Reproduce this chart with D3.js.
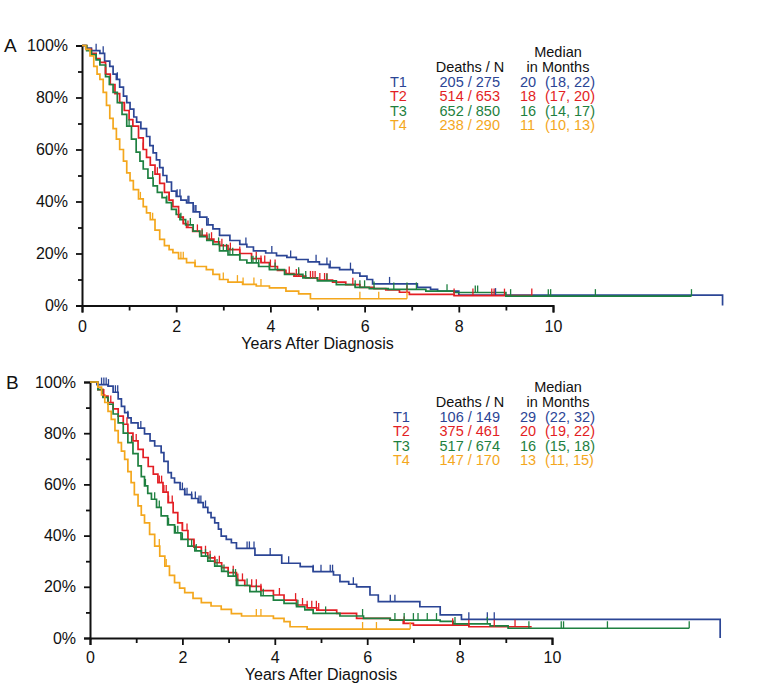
<!DOCTYPE html>
<html>
<head>
<meta charset="utf-8">
<script src="https://cdn.jsdelivr.net/npm/d3@7"></script>
<style>
  html, body { margin: 0; padding: 0; background: #fff; }
  svg { display: block; }
  text { font-family: "Liberation Sans", Arial, Helvetica, sans-serif; }
</style>
</head>
<body>
<svg id="chart" width="759" height="699"></svg>
<script>
// ---------------- DATA ----------------
const groups = ["T1", "T2", "T3", "T4"];
const xTicks = [0, 2, 4, 6, 8, 10];
const xMinorTicks = [1, 3, 5, 7, 9];
const yTicks = [0, 20, 40, 60, 80, 100];
const yMinorTicks = [10, 30, 50, 70, 90];
const xTitle = "Years After Diagnosis";

// Panel A: [years, survival %]
const A_T1 = [[0,100],[0.08,99],[0.2,98],[0.38,97],[0.48,94],[0.59,92],[0.66,89],[0.73,87],[0.8,84],[0.88,80.5],[0.95,78],[1.02,75.5],[1.1,72.5],[1.16,70.5],[1.25,68],[1.37,65],[1.44,61.5],[1.51,58.7],[1.58,56],[1.65,53],[1.72,50],[1.8,47.5],[1.9,44],[2.0,42],[2.1,40.5],[2.22,39.5],[2.36,36],[2.5,34],[2.65,31],[2.78,29.5],[2.92,27],[3.14,25],[3.35,23.5],[3.5,22.5],[3.64,21],[3.9,20.2],[4.13,19.2],[4.35,18.5],[4.55,17.7],[4.8,16.8],[5.04,15.8],[5.25,14.6],[5.47,13.8],[5.75,12.5],[5.9,11.3],[6.05,10],[6.17,8.3],[7.12,7],[7.4,6.2],[7.55,5.5],[8.0,4],[13.6,4],[13.6,0]];
const A_T2 = [[0,100],[0.1,98.5],[0.2,97],[0.3,95],[0.38,93.5],[0.5,89],[0.6,85],[0.7,81.5],[0.8,78],[0.9,75],[1.0,71.5],[1.08,69],[1.2,64.5],[1.3,60],[1.37,57],[1.45,54],[1.55,50.5],[1.65,47],[1.75,43.5],[1.85,40.5],[1.93,38],[2.05,34],[2.15,31.5],[2.22,30],[2.35,28.5],[2.5,27],[2.65,25.5],[2.8,24.5],[2.92,23],[3.1,21.5],[3.35,20],[3.6,18],[3.8,16.5],[3.98,15],[4.15,13.5],[4.33,12.3],[4.5,11.3],[4.75,10.6],[5.0,9.8],[5.32,9],[5.6,8],[5.9,7],[6.2,6.5],[6.45,6],[6.74,5.1],[6.95,4.3],[7.9,3.8],[9.55,3.8]];
const A_T3 = [[0,100],[0.1,98],[0.2,96.5],[0.3,94.5],[0.38,92.5],[0.5,88],[0.58,85],[0.66,82],[0.75,78],[0.85,73.5],[0.95,69],[1.05,64],[1.15,59],[1.23,55.5],[1.3,52.5],[1.4,49],[1.51,46],[1.6,43.5],[1.7,41.5],[1.79,39.6],[1.9,37],[2.0,35],[2.08,33],[2.2,31],[2.36,28.6],[2.5,26.5],[2.65,25],[2.78,23.5],[2.92,21],[3.1,19.5],[3.35,17.5],[3.5,16.4],[3.75,15],[3.98,13.8],[4.3,12],[4.69,10.6],[5.0,9.5],[5.4,8],[5.8,7],[6.1,6.5],[6.5,6.2],[7.3,5.5],[7.9,5],[9.0,3.6],[12.94,3.6]];
const A_T4 = [[0,100],[0.08,98.5],[0.17,96],[0.25,92],[0.32,89],[0.38,87],[0.45,82],[0.52,77],[0.59,72],[0.66,68],[0.73,64],[0.8,60],[0.88,55.5],[0.95,51],[1.02,48],[1.09,44.6],[1.2,41],[1.3,38],[1.37,35.6],[1.45,33],[1.55,29],[1.65,25.4],[1.75,23],[1.85,21.5],[1.93,20.3],[2.05,18],[2.22,16.5],[2.4,15],[2.64,13.8],[2.78,12],[2.92,10],[3.1,9],[3.41,8.1],[3.7,7.5],[3.98,6.8],[4.33,5.5],[4.6,4.5],[4.85,2.6],[6.9,2.6]];

// Panel B: [years, survival %]
const B_T1 = [[0,100],[0.15,99],[0.39,98.4],[0.5,96],[0.61,93.4],[0.68,90.5],[0.75,88],[0.82,86],[0.89,84],[1.04,82],[1.18,79.7],[1.3,77],[1.4,75],[1.54,72.4],[1.6,69],[1.69,64.6],[1.76,62.5],[1.83,60.7],[1.95,58],[2.05,56],[2.2,54.5],[2.34,52.9],[2.45,51],[2.55,49],[2.62,47],[2.7,45],[2.78,42.5],[2.84,39.8],[2.95,38.5],[3.06,37.2],[3.17,35],[3.57,32.4],[4.15,29.2],[4.55,27.9],[4.83,25.9],[5.27,24.6],[5.41,22],[5.6,21],[5.77,20],[6.06,16.8],[6.24,14.2],[7.14,12.2],[7.58,9],[8.04,7.3],[13.64,7.3],[13.64,0]];
const B_T2 = [[0,100],[0.17,97],[0.28,94.5],[0.39,92],[0.5,89.5],[0.61,86.7],[0.72,83.5],[0.82,80],[0.93,77],[1.04,73.7],[1.15,70.5],[1.26,67],[1.37,64],[1.47,60.7],[1.58,57],[1.69,52.9],[1.8,49],[1.9,45],[2.0,42],[2.12,38.5],[2.25,35.5],[2.41,33.3],[2.55,31.3],[2.7,29.4],[2.85,27.5],[2.99,25.5],[3.17,22.5],[3.35,20.5],[3.46,20.2],[3.7,18.5],[3.97,16.8],[4.2,14.8],[4.47,12.9],[4.7,11.8],[4.91,10.9],[5.34,9.6],[5.77,7.7],[6.49,7],[6.78,5.7],[7.0,5],[8.2,4.4],[9.56,4.4]];
const B_T3 = [[0,100],[0.17,97],[0.28,94],[0.39,91.3],[0.5,87.5],[0.61,84],[0.72,80],[0.82,76.3],[0.93,72],[1.04,67.2],[1.11,63],[1.18,59.4],[1.25,56.5],[1.33,54.2],[1.44,51],[1.54,47.7],[1.68,44.2],[1.83,41.1],[1.97,38.5],[2.12,35.9],[2.27,34],[2.41,32],[2.55,30],[2.7,28.1],[2.85,26],[2.99,24.2],[3.17,20.5],[3.46,18.1],[3.7,16.5],[3.97,14.8],[4.2,13.5],[4.47,12.2],[4.65,11],[4.83,9.6],[5.41,8.6],[5.92,7.7],[6.5,7],[7.58,6.5],[7.86,5.5],[8.66,4.7],[9.05,3.8],[12.97,3.8]];
const B_T4 = [[0,100],[0.17,98],[0.25,95],[0.32,92],[0.39,88.5],[0.46,85.4],[0.54,81],[0.61,76.3],[0.68,73],[0.75,69.8],[0.82,65],[0.89,60.7],[0.96,56],[1.04,51.6],[1.11,48],[1.18,45],[1.29,40.5],[1.4,35.9],[1.51,32],[1.62,28.1],[1.72,24.5],[1.83,21.6],[1.94,19.5],[2.05,17.7],[2.23,15.5],[2.41,13.8],[2.62,12.5],[2.84,11.2],[3.06,9.5],[3.28,8.6],[3.97,7.7],[4.2,6.4],[4.33,4.4],[4.7,3.5],[6.93,3.5]];

// Censoring times (years)
const A_cens_T1 = [0.3,0.45,0.75,2.02,2.08,2.25,2.27,2.4,2.42,2.68,3.48,4.03,4.43,4.97,5.2,5.27,5.7,6.53,8.78];
const A_cens_T2 = [0.5,0.9,1.3,1.6,1.85,2.05,2.15,2.25,2.45,2.55,2.65,2.75,2.97,3.15,3.35,3.7,3.8,3.88,4.0,4.1,4.4,4.55,4.6,4.85,4.9,4.95,5.05,5.15,5.2,5.75,6.9,7.9,8.3,8.7,8.75,8.97,9.55];
const A_cens_T3 = [1.0,1.5,1.8,2.1,2.3,2.55,2.7,2.9,3.0,3.07,3.14,3.2,3.35,3.6,3.63,3.7,3.75,3.98,4.1,4.6,4.75,5.2,5.8,5.9,6.0,6.2,6.62,6.9,7.1,7.75,8.35,8.4,9.1,9.9,9.95,10.9,12.94];
const A_cens_T4 = [1.24,1.5,2.1,2.15,2.4,3.0,3.3,3.42,3.65,3.8,5.9,6.3,6.9];
const B_cens_T1 = [0.25,0.3,0.35,0.4,0.55,0.6,0.82,1.1,2.0,2.05,2.1,2.2,2.28,2.36,2.4,2.5,3.4,3.45,3.55,3.9,4.3,4.83,5.0,5.2,5.25,5.7,6.5,6.6,8.2,8.6,8.75];
const B_cens_T2 = [0.3,0.45,0.8,1.0,1.5,1.55,1.6,1.65,1.7,1.78,2.0,2.1,2.25,2.5,2.6,2.7,2.8,3.1,3.2,3.3,3.5,3.6,3.7,4.1,4.45,4.6,4.7,4.8,4.9,4.95,6.8,7.85,8.2,8.75,9.2];
const B_cens_T3 = [0.9,1.2,1.4,1.5,1.7,1.85,1.9,2.0,2.2,2.3,2.5,2.6,2.75,2.9,3.1,3.15,3.2,3.4,3.6,3.75,4.5,5.1,5.9,6.6,6.8,7.0,7.1,7.3,7.5,7.9,8.6,9.5,10.2,10.25,11.2,12.97];
const B_cens_T4 = [1.5,1.65,3.6,3.7,5.9,6.2,6.93];

// Legend tables
const A_deaths = ["205 / 275", "514 / 653", "652 / 850", "238 / 290"];
const A_median = ["20", "18", "16", "11"];
const A_ci = ["(18, 22)", "(17, 20)", "(14, 17)", "(10, 13)"];
const B_deaths = ["106 / 149", "375 / 461", "517 / 674", "147 / 170"];
const B_median = ["29", "20", "16", "13"];
const B_ci = ["(22, 32)", "(19, 22)", "(15, 18)", "(11, 15)"];

// ---------------- DRAW ----------------
const colors = ["#2b4595", "#e31e24", "#1e8040", "#f4a71d"];
const svg = d3.select("#chart");

const panels = [
  { letter: "A", series: [A_T1, A_T2, A_T3, A_T4], cens: [A_cens_T1, A_cens_T2, A_cens_T3, A_cens_T4],
    deaths: A_deaths, median: A_median, ci: A_ci,
    x0: 82, x10: 553, y0: 305.5, y100: 45.5, letterX: 4, letterY: 52,
    legX: 390, legY: 87, labelY: 332, titleY: 349 },
  { letter: "B", series: [B_T1, B_T2, B_T3, B_T4], cens: [B_cens_T1, B_cens_T2, B_cens_T3, B_cens_T4],
    deaths: B_deaths, median: B_median, ci: B_ci,
    x0: 90, x10: 552, y0: 638, y100: 382, letterX: 6, letterY: 389,
    legX: 393, legY: 422, labelY: 663, titleY: 680 }
];

function stepValue(series, t) {
  let v = series[0][1];
  for (const p of series) { if (p[0] <= t) v = p[1]; else break; }
  return v;
}

panels.forEach(P => {
  const x = d3.scaleLinear().domain([0, 10]).range([P.x0, P.x10]);
  const y = d3.scaleLinear().domain([0, 100]).range([P.y0, P.y100]);
  const g = svg.append("g");

  // Panel letter
  g.append("text").attr("x", P.letterX).attr("y", P.letterY)
    .attr("font-size", 19).attr("fill", "#111").text(P.letter);

  // Y axis
  const yAxis = d3.axisLeft(y).tickValues(yTicks).tickSize(6).tickPadding(8)
    .tickFormat(d => d + "%");
  const ya = g.append("g").attr("transform", `translate(${P.x0},0)`).call(yAxis);
  ya.select(".domain").attr("stroke-width", 2).attr("stroke", "#111");
  ya.selectAll(".tick line").attr("stroke-width", 1.8).attr("stroke", "#111");
  ya.selectAll(".tick text").attr("font-size", 16).attr("fill", "#111")
    .attr("font-family", "'Liberation Sans', Arial, sans-serif");
  const yMinor = d3.axisLeft(y).tickValues(yMinorTicks).tickSize(4).tickFormat("");
  const ym = g.append("g").attr("transform", `translate(${P.x0},0)`).call(yMinor);
  ym.select(".domain").remove();
  ym.selectAll(".tick line").attr("stroke-width", 1.8).attr("stroke", "#111");

  // X axis
  const xAxis = d3.axisBottom(x).tickValues(xTicks).tickSize(7).tickPadding(0).tickFormat(d => d);
  const xa = g.append("g").attr("transform", `translate(0,${P.y0})`).call(xAxis);
  xa.select(".domain").attr("stroke-width", 2).attr("stroke", "#111");
  xa.selectAll(".tick line").attr("stroke-width", 1.8).attr("stroke", "#111");
  xa.selectAll(".tick text").attr("font-size", 16).attr("fill", "#111")
    .attr("font-family", "'Liberation Sans', Arial, sans-serif")
    .attr("dy", null).attr("y", P.labelY - P.y0);
  const xMinor = d3.axisBottom(x).tickValues(xMinorTicks).tickSize(5).tickFormat("");
  const xm = g.append("g").attr("transform", `translate(0,${P.y0})`).call(xMinor);
  xm.select(".domain").remove();
  xm.selectAll(".tick line").attr("stroke-width", 1.8).attr("stroke", "#111");

  g.append("text").attr("x", (P.x0 + P.x10) / 2).attr("y", P.titleY)
    .attr("text-anchor", "middle").attr("font-size", 16).attr("fill", "#111").text(xTitle);

  // Curves
  const line = d3.line().x(d => x(d[0])).y(d => y(d[1])).curve(d3.curveStepAfter);
  P.series.forEach((s, i) => {
    g.append("path").datum(s).attr("d", line).attr("fill", "none")
      .attr("stroke", colors[i]).attr("stroke-width", 1.7);
  });
  // Censor marks
  P.cens.forEach((c, i) => {
    g.append("g").selectAll("line").data(c).join("line")
      .attr("x1", d => x(d)).attr("x2", d => x(d))
      .attr("y1", d => y(stepValue(P.series[i], d)))
      .attr("y2", d => y(stepValue(P.series[i], d)) - 7)
      .attr("stroke", colors[i]).attr("stroke-width", 1.3);
  });

  // Legend
  const lg = g.append("g").attr("font-size", 14.5);
  const rowH = 14.3;
  lg.append("text").attr("x", 558).attr("y", P.legY - 2 * rowH - 1).attr("text-anchor", "middle")
    .attr("fill", "#111").text("Median");
  lg.append("text").attr("x", 558).attr("y", P.legY - rowH - 1).attr("text-anchor", "middle")
    .attr("fill", "#111").text("in Months");
  lg.append("text").attr("x", 470).attr("y", P.legY - rowH - 1).attr("text-anchor", "middle")
    .attr("fill", "#111").text("Deaths / N");
  groups.forEach((gname, i) => {
    const yy = P.legY + i * rowH;
    lg.append("text").attr("x", P.legX).attr("y", yy).attr("fill", colors[i]).text(gname);
    lg.append("text").attr("x", 500).attr("y", yy).attr("text-anchor", "end").attr("fill", colors[i]).text(P.deaths[i]);
    lg.append("text").attr("x", 520).attr("y", yy).attr("fill", colors[i]).text(P.median[i]);
    lg.append("text").attr("x", 545).attr("y", yy).attr("fill", colors[i]).text(P.ci[i]);
  });
});
</script>
</body>
</html>
